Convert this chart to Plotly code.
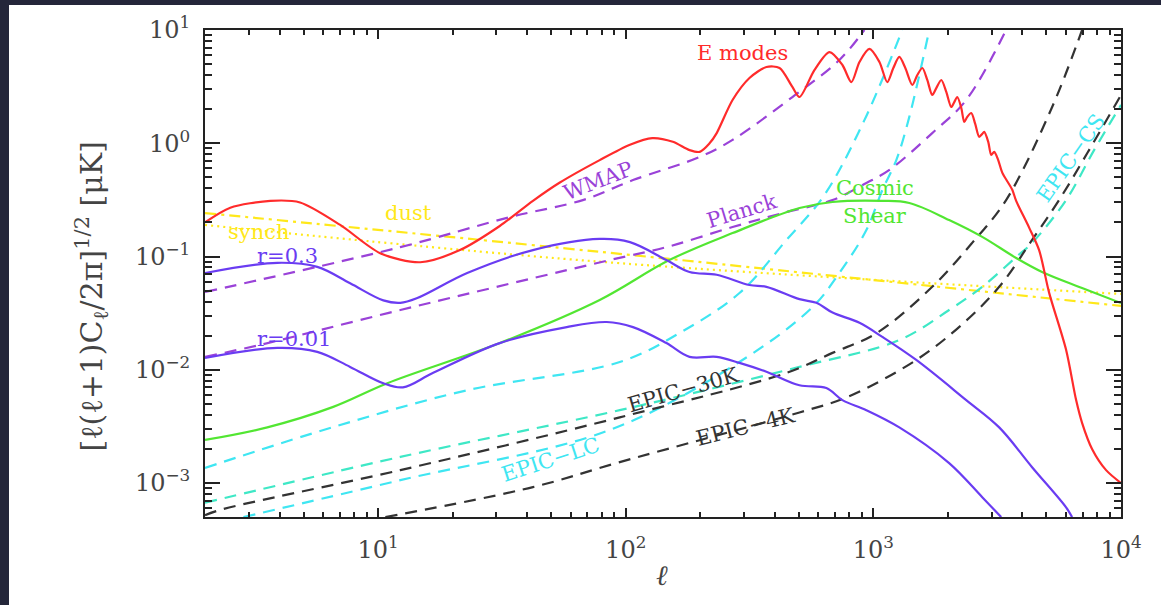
import plotly.graph_objects as go

# ---------------- spectra ----------------
ell_E = [2.0, 2.53, 3.67, 4.84, 7.03, 10.2, 14.8, 21.4, 31.0, 42.2, 54.2, 78.5, 104, 128, 155,
         181, 199, 218, 233, 270, 316, 370, 418, 471, 503, 578, 665, 750, 815, 879, 964, 1058,
         1138, 1204, 1273, 1346, 1437, 1505, 1577, 1651, 1729, 1795, 1881, 1970, 2063, 2122,
         2182, 2265, 2329, 2394, 2485, 2578, 2675, 2752, 2803, 2910, 2992, 3077, 3193, 3315,
         3635, 3773, 4256, 4670, 5124, 6001, 6588, 6962, 7640, 8705, 10000]
E_modes = [0.20, 0.27, 0.31, 0.30, 0.19, 0.107, 0.089, 0.114, 0.186, 0.31, 0.45, 0.71, 0.97, 1.11,
           1.03, 0.87, 0.84, 1.0, 1.23, 2.41, 3.77, 4.71, 4.62, 3.14, 2.56, 4.43, 6.39, 4.91, 3.47,
           5.22, 6.80, 5.22, 3.47, 4.62, 5.78, 4.62, 3.27, 4.01, 4.62, 3.62, 2.67, 3.07, 3.62, 2.84,
           2.09, 2.31, 2.56, 2.05, 1.54, 1.71, 1.85, 1.48, 1.14, 1.21, 1.26, 1.03, 0.79, 0.84, 0.71,
           0.55, 0.39, 0.31, 0.18, 0.114, 0.048, 0.015, 0.0054, 0.0034, 0.0020, 0.0013, 0.0010]

ell_r03 = [2.0, 3.92, 5.68, 7.71, 10.5, 12.3, 14.4, 22.9, 42.2, 78.5, 104, 146, 181, 233, 316,
           370, 503, 589, 684, 879, 1087, 1490, 2371, 3222, 4375, 6001, 6344]
B_r03 = [0.0715, 0.088, 0.081, 0.058, 0.041, 0.039, 0.043, 0.0715, 0.114, 0.143, 0.134, 0.093,
         0.073, 0.069, 0.056, 0.054, 0.042, 0.039, 0.032, 0.026, 0.0195, 0.0122, 0.0054, 0.0031,
         0.00138, 0.00061, 0.0005]

ell_r001 = [2.0, 3.92, 5.68, 7.71, 10.5, 12.6, 16.7, 31.0, 57.8, 83.8, 107, 146, 181, 233, 288,
            370, 503, 646, 750, 937, 1273, 2023, 2752, 3282]
B_r001 = [0.0127, 0.0156, 0.0144, 0.0106, 0.0076, 0.0070, 0.0094, 0.0172, 0.0238, 0.0264, 0.0238,
          0.0172, 0.0130, 0.0130, 0.0115, 0.0096, 0.0073, 0.0069, 0.0054, 0.0044, 0.0031, 0.0015,
          0.00075, 0.0005]

ell_shear = [2.0, 3.57, 6.59, 10.9, 31.0, 78.5, 150, 270, 503, 684, 1087, 1397, 2023, 2752, 3773,
             4800, 6962, 10000]
B_shear = [0.0024, 0.0031, 0.0047, 0.0076, 0.0172, 0.0413, 0.093, 0.161, 0.268, 0.303, 0.31,
           0.297, 0.21, 0.149, 0.097, 0.073, 0.0527, 0.0388]

# ---------------- foregrounds ----------------
ell_dust = [2.0, 78.5, 10000]
dust = [0.242, 0.110, 0.0366]
ell_synch = [2.0, 78.5, 10000]
synch = [0.19, 0.090, 0.0467]

# ---------------- experiment noise ----------------
ell_wmap = [2.0, 12.3, 34.1, 67.1, 107, 199, 270, 471, 729, 920]
wmap = [0.0486, 0.121, 0.223, 0.315, 0.473, 0.757, 1.07, 2.56, 5.43, 10.0]

ell_planck = [2.0, 3.34, 12.3, 86.2, 146, 270, 430, 684, 937, 1161, 1729, 2371, 3436]
planck = [0.0130, 0.0166, 0.0337, 0.093, 0.121, 0.182, 0.242, 0.315, 0.446, 0.581, 1.23, 2.41, 10.0]

ell_epic_a = [2.0, 6.59, 22.9, 94.6, 165, 288, 446, 634, 920, 1309]
epic_a = [0.00136, 0.00312, 0.0066, 0.0117, 0.0211, 0.0476, 0.140, 0.349, 1.60, 10.0]

ell_epic_lc = [2.86, 12.3, 86.2, 296, 568, 729, 937, 1087, 1238, 1397, 1682]
epic_lc = [0.0005, 0.00106, 0.00294, 0.0122, 0.0358, 0.0715, 0.171, 0.386, 0.711, 1.71, 10.0]

ell_epic_cs = [2.0, 12.3, 94.6, 503, 1273, 2023, 2752, 3773, 4375, 6001, 7786, 10000]
epic_cs = [0.00067, 0.0017, 0.0044, 0.0106, 0.0183, 0.0337, 0.054, 0.099, 0.132, 0.315, 0.87, 2.18]

ell_epic_30k = [2.0, 2.31, 12.3, 94.6, 446, 684, 1028, 1729, 2506, 3436, 5272, 6962]
epic_30k = [0.00052, 0.00058, 0.0013, 0.0038, 0.0094, 0.0141, 0.021, 0.054, 0.132, 0.315, 2.09, 10.0]

ell_epic_4k = [10.7, 42.2, 94.6, 503, 778, 1490, 2265, 3222, 4375, 5623, 7430, 10000]
epic_4k = [0.0005, 0.00092, 0.00153, 0.0042, 0.0057, 0.0122, 0.0248, 0.054, 0.14, 0.315, 0.87, 2.67]

x_ticks = [10, 100, 1000, 10000]
x_labels = ["10<sup>1</sup>", "10<sup>2</sup>", "10<sup>3</sup>", "10<sup>4</sup>"]
y_ticks = [1e-3, 1e-2, 1e-1, 1, 10]
y_labels = ["10<sup>−3</sup>", "10<sup>−2</sup>", "10<sup>−1</sup>", "10<sup>0</sup>", "10<sup>1</sup>"]

RED = "#ff2b2b"
BLUE = "#6a3cf2"
PURPLE = "#9a42d8"
GREEN = "#52e632"
YELLOW = "#ffe81a"
CYAN = "#3fe6f2"
TURQ = "#3ee8c6"
BLACK = "#333333"
FONT = "DejaVu Serif"

fig = go.Figure()


def add_line(x, y, color, dash="solid", width=2.2, smooth=1.0):
    fig.add_trace(go.Scatter(
        x=x, y=y, mode="lines",
        line=dict(color=color, width=width, dash=dash, shape="spline", smoothing=smooth),
        hoverinfo="skip", showlegend=False))


DASH = "12px,8px"
add_line(ell_dust, dust, YELLOW, "11px,5px,3px,5px")
add_line(ell_synch, synch, YELLOW, "2px,4px")
add_line(ell_wmap, wmap, PURPLE, DASH)
add_line(ell_planck, planck, PURPLE, DASH)
add_line(ell_epic_a, epic_a, CYAN, DASH)
add_line(ell_epic_lc, epic_lc, CYAN, DASH)
add_line(ell_epic_cs, epic_cs, TURQ, DASH)
add_line(ell_epic_30k, epic_30k, BLACK, DASH)
add_line(ell_epic_4k, epic_4k, BLACK, DASH)
add_line(ell_shear, B_shear, GREEN)
add_line(ell_r03, B_r03, BLUE)
add_line(ell_r001, B_r001, BLUE)
add_line(ell_E, E_modes, RED, smooth=0.8)

# ---------------- curve labels ----------------
labels = [
    ("E modes", 742, 53, RED, 0),
    ("WMAP", 598, 181, PURPLE, -21),
    ("Planck", 742, 211, PURPLE, -17),
    ("dust", 408, 213, YELLOW, 0),
    ("synch", 258, 232, YELLOW, 0),
    ("r=0.3", 287, 256, BLUE, 0),
    ("r=0.01", 294, 339, BLUE, 0),
    ("Cosmic", 875, 188, GREEN, 0),
    ("Shear", 875, 216, GREEN, 0),
    ("EPIC−CS", 1071, 158, CYAN, -55),
    ("EPIC−30K", 683, 390, BLACK, -16),
    ("EPIC−4K", 745, 427, BLACK, -14),
    ("EPIC−LC", 550, 460, CYAN, -18),
]

L, R, T, B = 205, 40, 30, 88
W, H = 1161, 605
pw, ph = W - L - R, H - T - B


def px(x):
    return (x - L) / pw


def py(y):
    return (H - B - y) / ph


for text, x, y, color, ang in labels:
    fig.add_annotation(x=px(x), y=py(y), xref="paper", yref="paper", text=text,
                       showarrow=False, textangle=ang, xanchor="center", yanchor="middle",
                       font=dict(family=FONT, size=21, color=color))

# axis titles
fig.add_annotation(x=px(68), y=py(297), xref="paper", yref="paper",
                   text="[ℓ(ℓ+1)C<sub>ℓ</sub>/2π]<sup>1/2</sup> [μK]", textangle=-90,
                   showarrow=False, font=dict(family=FONT, size=30, color="#444444"))
fig.add_annotation(x=px(662), y=py(594), xref="paper", yref="paper", text="<i>ℓ</i>",
                   showarrow=False, font=dict(family=FONT, size=28, color="#444444"))

# dark surround along the top and left edges of the page
fig.add_shape(type="rect", xref="paper", yref="paper", x0=px(0), x1=px(1161), y0=py(5), y1=py(0),
              fillcolor="#24263a", line=dict(width=0), layer="above")
fig.add_shape(type="rect", xref="paper", yref="paper", x0=px(0), x1=px(9), y0=py(605), y1=py(0),
              fillcolor="#24263a", line=dict(width=0), layer="above")

x_minor = [m * 10 ** e for e in range(0, 4) for m in range(2, 10) if m * 10 ** e >= 2]
y_minor = [m * 10.0 ** e for e in range(-4, 1) for m in range(2, 10) if m * 10.0 ** e >= 5.1e-4]

axis_common = dict(type="log", showgrid=False, zeroline=False, showline=True, linecolor="#222222",
                   linewidth=2, mirror="allticks", ticks="inside", tickcolor="#222222", tickwidth=1.5,
                   tickfont=dict(family=FONT, size=24, color="#444444"))

fig.update_xaxes(range=[0.30103, 4], tickmode="array", tickvals=x_ticks, ticktext=x_labels,
                 ticklen=9, ticklabelstandoff=10,
                 minor=dict(tickmode="array", tickvals=x_minor, ticks="inside", ticklen=5,
                            tickcolor="#222222", tickwidth=1.5, showgrid=False),
                 **axis_common)
fig.update_yaxes(range=[-3.3, 1], tickmode="array", tickvals=y_ticks, ticktext=y_labels,
                 ticklen=15, ticklabelstandoff=8,
                 minor=dict(tickmode="array", tickvals=y_minor, ticks="inside", ticklen=7,
                            tickcolor="#222222", tickwidth=1.5, showgrid=False),
                 **axis_common)

fig.update_layout(width=W, height=H, margin=dict(l=L, r=R, t=T, b=B, autoexpand=False),
                  paper_bgcolor="white", plot_bgcolor="white", showlegend=False)

# keep the page free of scrollbars
fig.write_html("out.html",
               post_script="document.documentElement.style.overflow='hidden';"
                           "document.body.style.overflow='hidden';"
                           "document.body.style.margin='0';")
